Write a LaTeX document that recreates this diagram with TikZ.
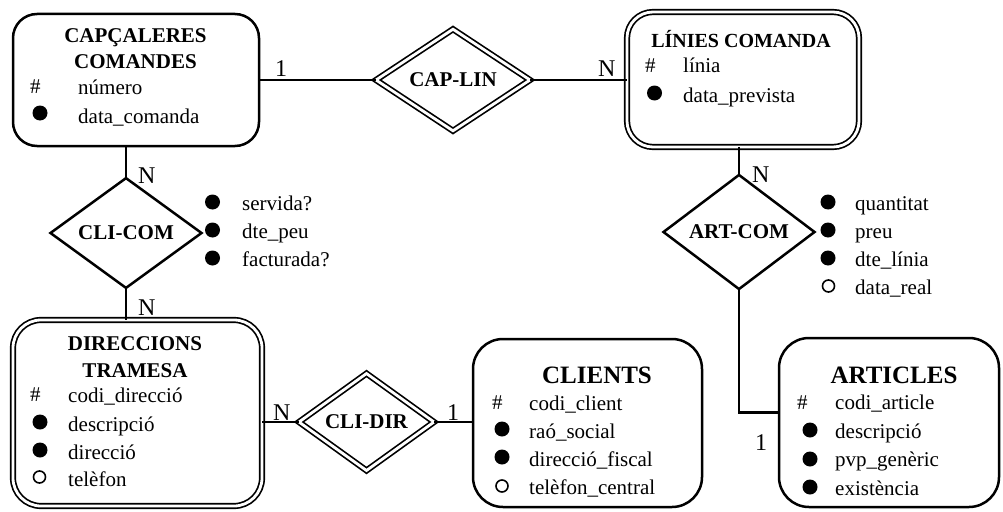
\documentclass[tikz,border=0pt]{standalone}
\usepackage{fontspec}
\setmainfont{Liberation Serif}
\usetikzlibrary{shapes.geometric}
\begin{document}
\begin{tikzpicture}[x=1pt,y=-1pt,
  ent/.style={draw, rectangle, line width=2.5pt, inner sep=0pt, outer sep=0pt},
  went/.style={draw, rectangle, line width=1.7pt, double, double distance=2.8pt, inner sep=0pt, outer sep=0pt},
  rel/.style={draw, diamond, line width=2.5pt, inner sep=0pt, outer sep=0pt, font=\fontsize{21}{25}\selectfont\bfseries},
  wrel/.style={draw, diamond, line width=1.7pt, double, double distance=2.8pt, inner sep=0pt, outer sep=0pt, font=\fontsize{21}{25}\selectfont\bfseries},
  head/.style={anchor=base, inner sep=0pt, font=\fontsize{21}{25}\selectfont\bfseries},
  bighead/.style={anchor=base, inner sep=0pt, font=\fontsize{25}{30}\selectfont\bfseries},
  attr/.style={anchor=base west, inner sep=0pt, font=\fontsize{21}{25}\selectfont},
  card/.style={anchor=base west, inner sep=0pt, font=\fontsize{24}{28}\selectfont},
  conn/.style={line width=2.5pt},
  hollow/.style={draw=black, line width=1.6pt}
]
\useasboundingbox (0,0) rectangle (1003,511);

% entities
\node[ent, rounded corners=24pt, minimum width=246pt, minimum height=132pt] (cap) at (136,80) {};
\node[went, rounded corners=26pt, minimum width=232pt, minimum height=135pt] (lin) at (743,79.5) {};
\node[went, rounded corners=28pt, minimum width=249pt, minimum height=186pt] (dir) at (137.5,413) {};
\node[ent, rounded corners=30pt, minimum width=229pt, minimum height=168pt] (cli) at (587.5,423) {};
\node[ent, rounded corners=30pt, minimum width=220pt, minimum height=169pt] (art) at (889,422.5) {};

% relationships
\node[wrel, minimum width=154pt, minimum height=97pt] (caplin) at (453,80) {CAP-LIN};
\node[rel, minimum width=151pt, minimum height=92pt] (clicom) at (126,233) {CLI-COM};
\node[rel, minimum width=151pt, minimum height=92pt] (artcom) at (739,232) {ART-COM};
\node[wrel, minimum width=135pt, minimum height=93pt] (clidir) at (366.5,422) {CLI-DIR};

% connectors
\draw[conn] (cap.east) -- (caplin.west);
\draw[conn] (caplin.east) -- (caplin.east -| lin.west);
\draw[conn] (clicom.north) -- (clicom.north |- cap.south);
\draw[conn] (clicom.south) -- (clicom.south |- dir.north);
\draw[conn] (artcom.north) -- (artcom.north |- lin.south);
\draw[conn] (artcom.south) |- ([yshift=10pt]art.west);
\draw[conn] (dir.east |- clidir.west) -- (clidir.west);
\draw[conn] (clidir.east) -- (clidir.east -| cli.west);

% cardinalities
\node[card] (c1) at (275,77) {1};
\node[card] (c2) at (598,77) {N};
\node[card] (c3) at (138,183) {N};
\node[card] (c4) at (138,315) {N};
\node[card] (c5) at (752,182) {N};
\node[card] (c6) at (273,420) {N};
\node[card] (c7) at (447,420) {1};
\node[card] (c8) at (755,450) {1};

% CAPÇALERES COMANDES
\node[head] (caph1) at (135.5,43) {CAPÇALERES};
\node[head] (caph2) at (135.5,68) {COMANDES};
\node[attr] (capk) at (30,93) {\#};
\node[attr] (capa1) at (78,94) {número};
\fill (40,113) circle[radius=7.5];
\node[attr] (capa2) at (78,123) {data\_comanda};

% LÍNIES COMANDA
\node[head, font=\fontsize{20}{24}\selectfont\bfseries] (linh) at (741,48) {LÍNIES COMANDA};
\node[attr] (link) at (645,73) {\#};
\node[attr] (lina1) at (683,73) {línia};
\fill (654.5,93) circle[radius=7.5];
\node[attr] (lina2) at (683,102) {data\_prevista};

% DIRECCIONS TRAMESA
\node[head] (dirh1) at (135,350) {DIRECCIONS};
\node[head] (dirh2) at (135,377) {TRAMESA};
\node[attr] (dirk) at (30,401) {\#};
\node[attr] (dira1) at (68,402) {codi\_direcció};
\fill (40,422) circle[radius=7.5];
\node[attr] (dira2) at (68,431) {descripció};
\fill (40,450) circle[radius=7.5];
\node[attr] (dira3) at (68,459) {direcció};
\draw[hollow] (39.5,477) circle[radius=6];
\node[attr] (dira4) at (68,486) {telèfon};

% CLIENTS
\node[bighead] (clih) at (597,383) {CLIENTS};
\node[attr] (clik) at (492,409) {\#};
\node[attr] (clia1) at (529,410) {codi\_client};
\fill (502,429) circle[radius=7.5];
\node[attr] (clia2) at (529,438) {raó\_social};
\fill (502,457) circle[radius=7.5];
\node[attr] (clia3) at (529,466) {direcció\_fiscal};
\draw[hollow] (502,486) circle[radius=6];
\node[attr] (clia4) at (529,494) {telèfon\_central};

% ARTICLES
\node[bighead] (arth) at (894,383) {ARTICLES};
\node[attr] (artk) at (797,409) {\#};
\node[attr] (arta1) at (835,409) {codi\_article};
\fill (810,430) circle[radius=7.5];
\node[attr] (arta2) at (835,438) {descripció};
\fill (810,459) circle[radius=7.5];
\node[attr] (arta3) at (835,466) {pvp\_genèric};
\fill (810,487) circle[radius=7.5];
\node[attr] (arta4) at (835,495) {existència};

% CLI-COM attributes
\fill (212.5,202) circle[radius=7.5];
\node[attr] (cca1) at (242,210) {servida?};
\fill (212.5,230) circle[radius=7.5];
\node[attr] (cca2) at (242,238) {dte\_peu};
\fill (212.5,258) circle[radius=7.5];
\node[attr] (cca3) at (242,266) {facturada?};

% ART-COM attributes
\fill (828,202) circle[radius=7.5];
\node[attr] (aca1) at (855,210) {quantitat};
\fill (828,230) circle[radius=7.5];
\node[attr] (aca2) at (855,238) {preu};
\fill (828,258) circle[radius=7.5];
\node[attr] (aca3) at (855,266) {dte\_línia};
\draw[hollow] (828.5,286) circle[radius=6];
\node[attr] (aca4) at (855,294) {data\_real};
\end{tikzpicture}
\end{document}
